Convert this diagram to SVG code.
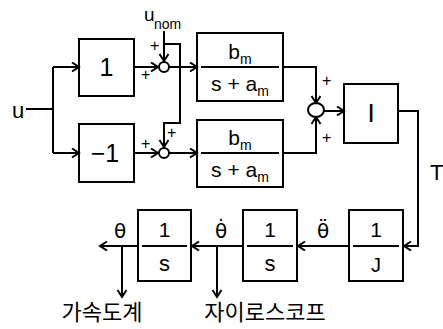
<svg xmlns="http://www.w3.org/2000/svg" width="443" height="329" viewBox="0 0 443 329">
<style>
.b{fill:none;stroke:#000;stroke-width:2}
.c{fill:none;stroke:#000;stroke-width:2}
.t{font-family:"Liberation Sans",Arial,sans-serif;fill:#000}
.g{font-family:"DejaVu Sans","Liberation Sans",sans-serif;fill:#000}
.k{font-family:"Noto Sans CJK KR",sans-serif;fill:#000;font-size:22px}
.p{font-family:"Liberation Sans",Arial,sans-serif;font-size:16px;fill:#000}
</style>
<defs>
<marker id="a" markerUnits="userSpaceOnUse" markerWidth="12" markerHeight="12" refX="8" refY="5" orient="auto">
<path d="M1,0.5 L8,5 L1,9.5" fill="none" stroke="#000" stroke-width="2"/>
</marker>
</defs>
<g id="connectors">
<path class="c" d="M26,109 H53"/>
<path class="c" d="M53,67 V153"/>
<path class="c" d="M53,67 H79" marker-end="url(#a)"/>
<path class="c" d="M53,153 H79" marker-end="url(#a)"/>
<path class="c" d="M134,67 H158" marker-end="url(#a)"/>
<path class="c" d="M134,153 H158" marker-end="url(#a)"/>
<path class="c" d="M164,31 V61" marker-end="url(#a)"/>
<path class="c" d="M164,44 H180 V123 H164 V147" marker-end="url(#a)"/>
<path class="c" d="M169,67 H197" marker-end="url(#a)"/>
<path class="c" d="M169,153 H197" marker-end="url(#a)"/>
<path class="c" d="M283,67 H316 V103" marker-end="url(#a)"/>
<path class="c" d="M283,153 H316 V117" marker-end="url(#a)"/>
<path class="c" d="M324,111 H344" marker-end="url(#a)"/>
<path class="c" d="M398,111 H418 V246 H404" marker-end="url(#a)"/>
<path class="c" d="M349,246 H298" marker-end="url(#a)"/>
<path class="c" d="M243,246 H192" marker-end="url(#a)"/>
<path class="c" d="M138,246 H100" marker-end="url(#a)"/>
<path class="c" d="M122,246 V297" marker-end="url(#a)"/>
<path class="c" d="M217,246 V297" marker-end="url(#a)"/>
</g>
<g id="input"><text class="t" x="12" y="118" font-size="22">u</text></g>
<g id="unom"><text class="t" x="144" y="21" font-size="19">u</text><text class="t" x="154" y="29" font-size="14">nom</text></g>
<g id="gain1"><rect class="b" x="79" y="39" width="55" height="57"/><text class="t" x="106.5" y="76" font-size="25" text-anchor="middle">1</text></g>
<g id="gainm1"><rect class="b" x="79" y="124" width="55" height="58"/><text class="t" x="105" y="162" font-size="25" text-anchor="middle">−1</text></g>
<g id="sum1"><circle class="b" cx="164" cy="67" r="5"/><text class="p" x="150" y="51">+</text><text class="p" x="141" y="80">+</text></g>
<g id="sum2"><circle class="b" cx="164" cy="153" r="5"/><text class="p" x="141" y="149">+</text><text class="p" x="167" y="138">+</text></g>
<g id="G1"><rect class="b" x="197" y="33" width="86" height="68"/><line class="c" x1="201" y1="67" x2="279" y2="67"/>
<text class="t" x="240" y="59" font-size="21" text-anchor="middle">b<tspan font-size="14" dy="5">m</tspan></text>
<text class="t" x="240" y="91" font-size="21" text-anchor="middle">s + a<tspan font-size="14" dy="5">m</tspan></text></g>
<g id="G2"><rect class="b" x="197" y="120" width="86" height="67"/><line class="c" x1="201" y1="153" x2="279" y2="153"/>
<text class="t" x="240" y="145" font-size="21" text-anchor="middle">b<tspan font-size="14" dy="5">m</tspan></text>
<text class="t" x="240" y="177" font-size="21" text-anchor="middle">s + a<tspan font-size="14" dy="5">m</tspan></text></g>
<g id="sum3"><ellipse class="b" cx="316" cy="110" rx="8" ry="7"/><text class="p" x="322" y="86">+</text><text class="p" x="322" y="143">+</text></g>
<g id="Ibox"><rect class="b" x="344" y="84" width="54" height="59"/><text class="t" x="371" y="122" font-size="26" text-anchor="middle">I</text></g>
<g id="Tlabel"><text class="t" x="430" y="180" font-size="22">T</text></g>
<g id="Jbox"><rect class="b" x="349" y="210" width="54" height="71"/><line class="c" x1="353" y1="246" x2="399" y2="246"/>
<text class="t" x="376" y="237" font-size="21" text-anchor="middle">1</text><text class="t" x="376" y="272" font-size="20" text-anchor="middle">J</text></g>
<g id="S2"><rect class="b" x="243" y="210" width="54" height="71"/><line class="c" x1="247" y1="246" x2="293" y2="246"/>
<text class="t" x="270" y="237" font-size="21" text-anchor="middle">1</text><text class="t" x="270" y="271" font-size="22" text-anchor="middle">s</text></g>
<g id="S1"><rect class="b" x="138" y="210" width="53" height="71"/><line class="c" x1="142" y1="246" x2="187" y2="246"/>
<text class="t" x="164.5" y="237" font-size="21" text-anchor="middle">1</text><text class="t" x="164.5" y="271" font-size="22" text-anchor="middle">s</text></g>
<g id="labels">
<text class="g" x="120" y="238" font-size="20" text-anchor="middle">θ</text>
<text class="g" x="221" y="238" font-size="20" text-anchor="middle">θ̇</text>
<text class="g" x="323" y="238" font-size="20" text-anchor="middle">θ̈</text>
<text class="k" x="102" y="320" text-anchor="middle">가속도계</text>
<text class="k" x="265" y="320" text-anchor="middle">자이로스코프</text>
</g>
</svg>
